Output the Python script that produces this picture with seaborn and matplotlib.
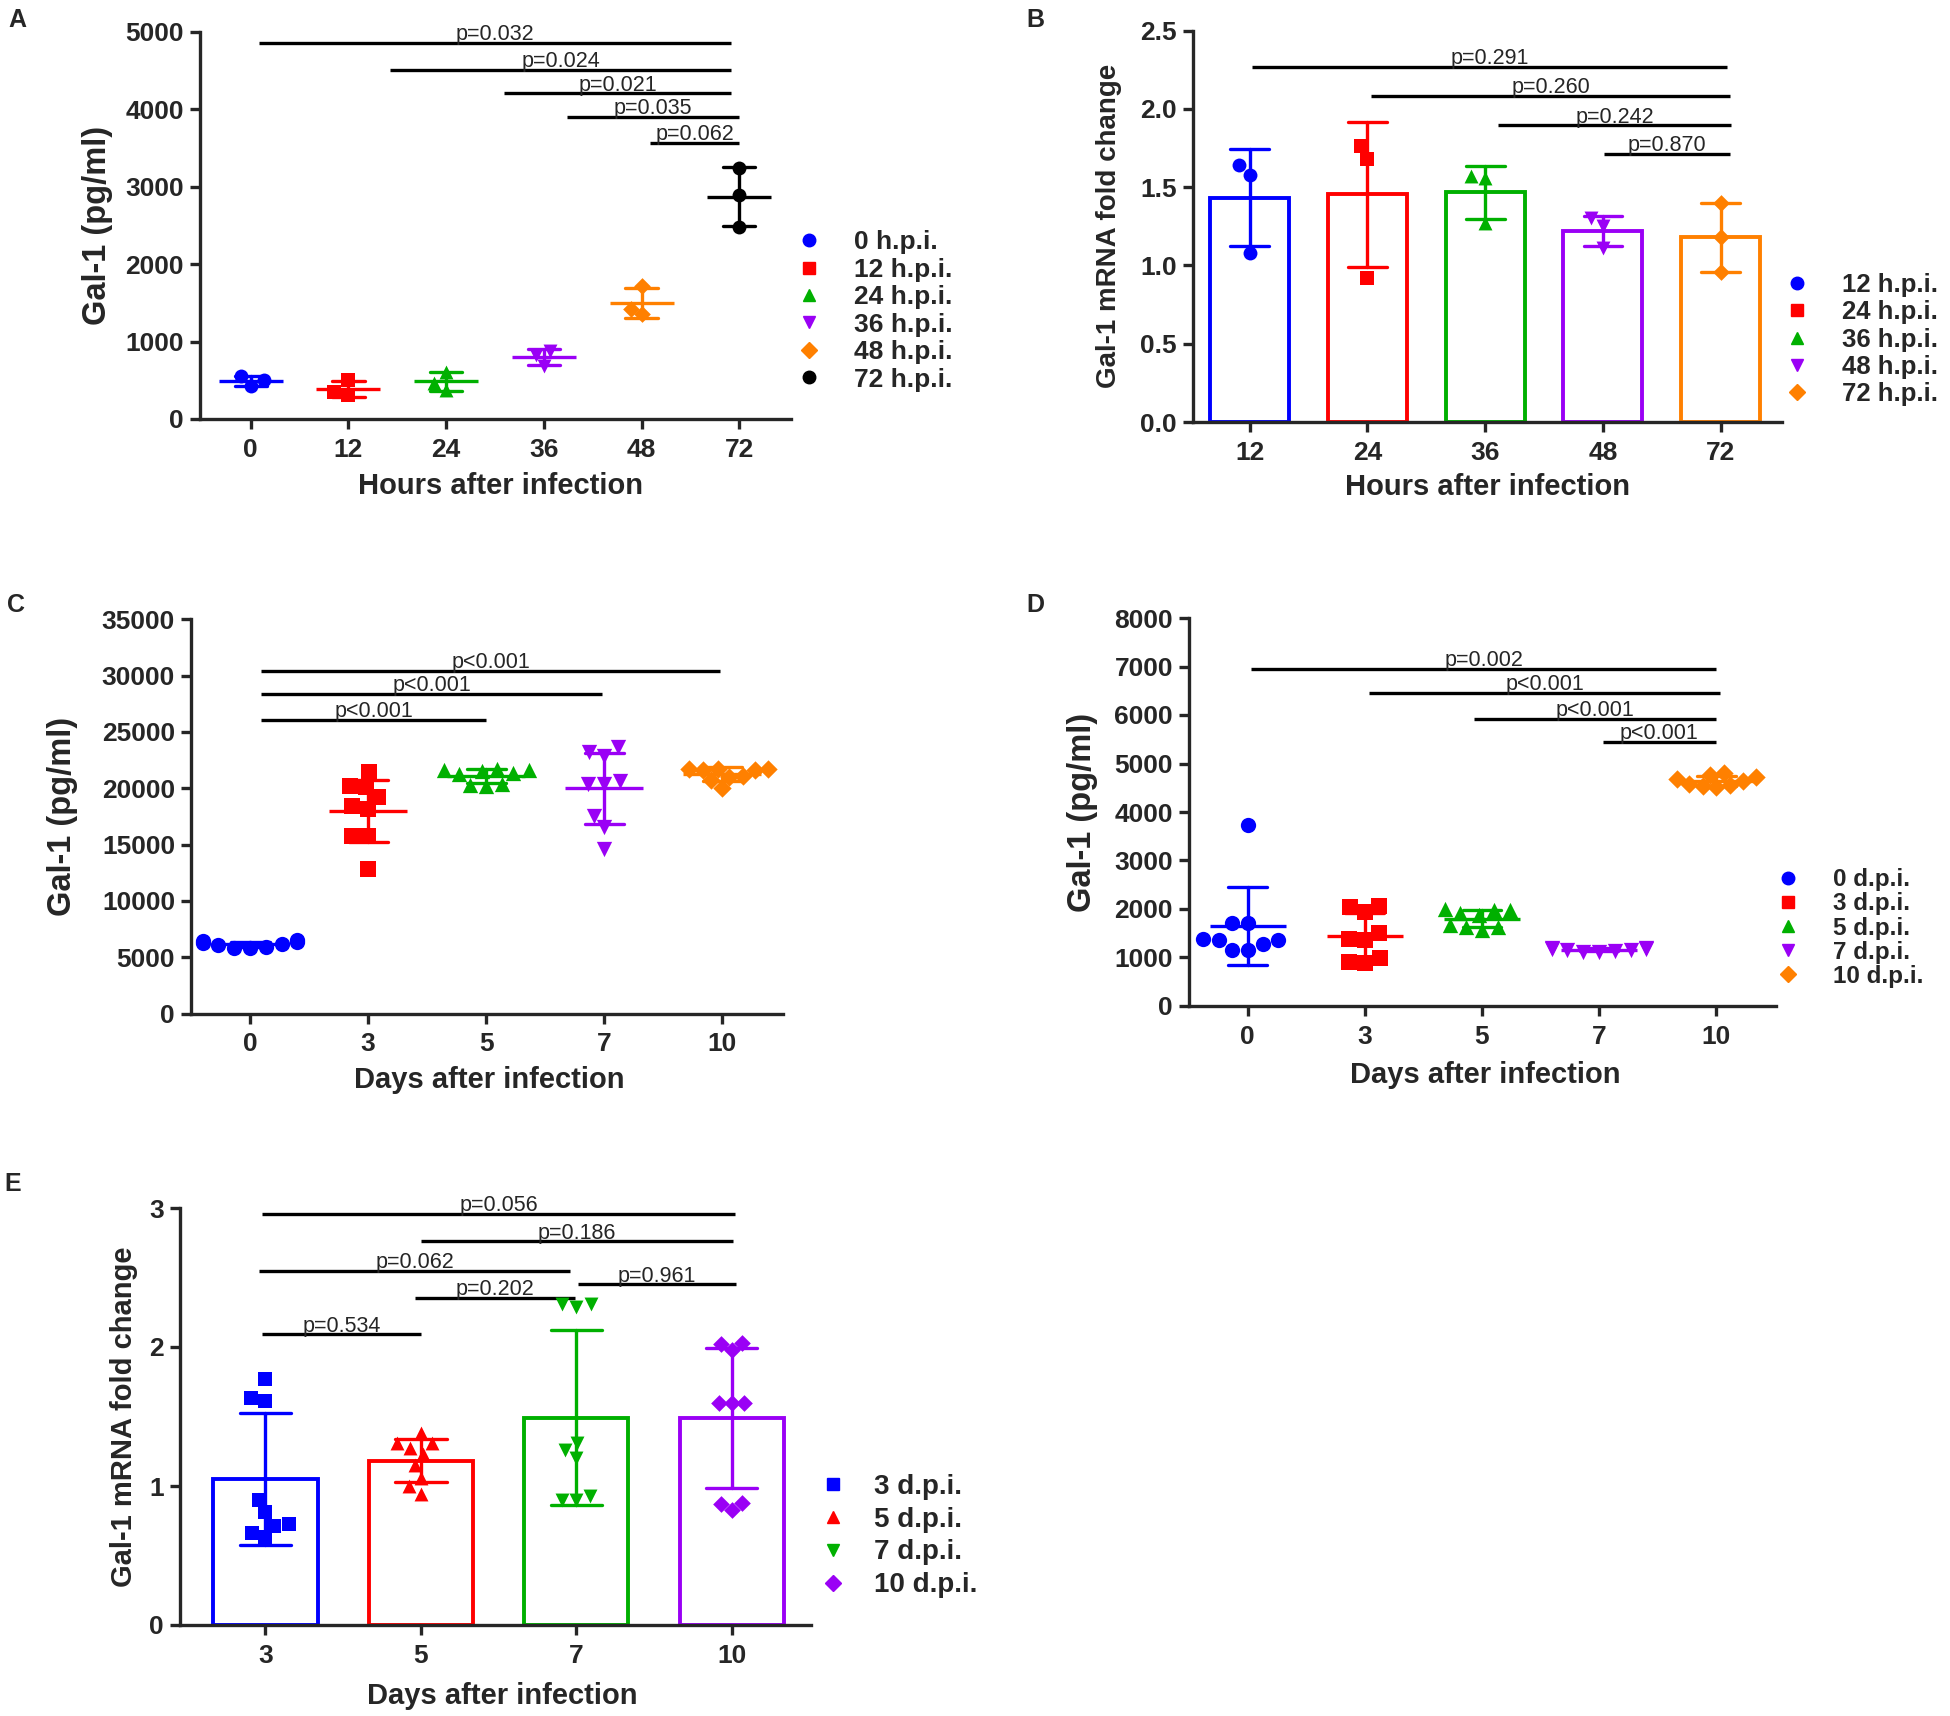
import matplotlib
matplotlib.use("Agg")
import matplotlib.pyplot as plt
from matplotlib.lines import Line2D
import seaborn as sns
import pandas as pd

# ---------------- data ----------------
# A: Gal-1 (pg/ml), hours after infection
a_groups = ["0", "12", "24", "36", "48", "72"]
a_labels = ["0 h.p.i.", "12 h.p.i.", "24 h.p.i.", "36 h.p.i.", "48 h.p.i.", "72 h.p.i."]
a_values = [
    [550, 500, 420],
    [500, 350, 310],
    [610, 470, 375],
    [880, 830, 680],
    [1720, 1420, 1350],
    [3240, 2890, 2480],
]
a_p_labels = ["p=0.032", "p=0.024", "p=0.021", "p=0.035", "p=0.062"]
a_p_start = [0.08, 1.42, 2.59, 3.24, 4.09]
a_p_end = [4.92, 4.92, 4.92, 5.0, 5.0]
a_p_y = [4860, 4505, 4205, 3905, 3560]

# B: Gal-1 mRNA fold change, hours after infection
b_groups = ["12", "24", "36", "48", "72"]
b_labels = ["12 h.p.i.", "24 h.p.i.", "36 h.p.i.", "48 h.p.i.", "72 h.p.i."]
b_values = [
    [1.64, 1.58, 1.08],
    [1.76, 1.68, 0.92],
    [1.57, 1.56, 1.27],
    [1.30, 1.25, 1.11],
    [1.40, 1.18, 0.96],
]
b_p_labels = ["p=0.291", "p=0.260", "p=0.242", "p=0.870"]
b_p_start = [0.02, 1.03, 2.11, 3.01]
b_p_end = [4.05, 4.08, 4.09, 4.08]
b_p_y = [2.27, 2.083, 1.894, 1.711]

# C: Gal-1 (pg/ml), days after infection
c_groups = ["0", "3", "5", "7", "10"]
c_values = [
    [6500, 6350, 6150, 5950, 5800, 5850, 6050, 6250, 6400],
    [21425, 20240, 20090, 19200, 18160, 18460, 15790, 15790, 12820],
    [21700, 21600, 21500, 21400, 21300, 21600, 20400, 20300, 20200],
    [23650, 23200, 22910, 20680, 20390, 20390, 17570, 16530, 14600],
    [21750, 21600, 21600, 21750, 21700, 21100, 21000, 20700, 20000],
]
c_p_labels = ["p<0.001", "p<0.001", "p<0.001"]
c_p_start = [0.095, 0.095, 0.095]
c_p_end = [3.98, 2.98, 2.0]
c_p_y = [30455, 28355, 26080]

# D: Gal-1 (pg/ml), days after infection
d_groups = ["0", "3", "5", "7", "10"]
d_labels = ["0 d.p.i.", "3 d.p.i.", "5 d.p.i.", "7 d.p.i.", "10 d.p.i."]
d_values = [
    [3730, 1720, 1720, 1360, 1270, 1155, 1155, 1360, 1380],
    [2070, 2035, 1935, 1390, 1360, 1495, 985, 885, 905],
    [1980, 1970, 2010, 1880, 1910, 1660, 1620, 1570, 1620],
    [1200, 1180, 1160, 1130, 1110, 1120, 1150, 1170, 1190],
    [4800, 4760, 4720, 4680, 4640, 4580, 4540, 4520, 4560],
]
d_p_labels = ["p=0.002", "p<0.001", "p<0.001", "p<0.001"]
d_p_start = [0.03, 1.04, 1.93, 3.03]
d_p_end = [4.0, 4.03, 4.0, 4.0]
d_p_y = [6957, 6456, 5920, 5440]

# E: Gal-1 mRNA fold change, days after infection
e_groups = ["3", "5", "7", "10"]
e_labels = ["3 d.p.i.", "5 d.p.i.", "7 d.p.i.", "10 d.p.i."]
e_values = [
    [1.77, 1.61, 1.63, 0.90, 0.81, 0.73, 0.71, 0.63, 0.66],
    [1.38, 1.31, 1.31, 1.23, 1.27, 1.15, 1.06, 1.00, 0.94],
    [2.31, 2.29, 2.31, 1.26, 1.31, 1.20, 0.93, 0.90, 0.90],
    [2.03, 1.98, 2.02, 1.60, 1.60, 1.60, 0.88, 0.83, 0.87],
]
e_p_labels = ["p=0.056", "p=0.186", "p=0.062", "p=0.961", "p=0.202", "p=0.534"]
e_p_start = [-0.02, 1.0, -0.04, 2.01, 0.96, -0.02]
e_p_end = [3.02, 3.01, 1.96, 3.03, 1.99, 1.0]
e_p_y = [2.958, 2.759, 2.548, 2.451, 2.352, 2.09]

BLUE, RED, GREEN, PURPLE, ORANGE, BLACK = "#0000ff", "#ff0000", "#00b000", "#9a00f5", "#ff8000", "#000000"
colors_a = [BLUE, RED, GREEN, PURPLE, ORANGE, BLACK]
markers_a = ["o", "s", "^", "v", "D", "o"]
colors_5 = [BLUE, RED, GREEN, PURPLE, ORANGE]
markers_5 = ["o", "s", "^", "v", "D"]
colors_e = [BLUE, RED, GREEN, PURPLE]
markers_e = ["s", "^", "v", "D"]

# ---------------- style ----------------
sns.set_style("ticks")
plt.rcParams["font.family"] = ["Liberation Sans", "DejaVu Sans"]
LW = 2.4

W, H = 1950, 1716
fig = plt.figure(figsize=(W / 100, H / 100), dpi=100)


def long_df(groups, values):
    rows = [(g, v) for g, vals in zip(groups, values) for v in vals]
    return pd.DataFrame(rows, columns=["group", "value"])


def px_axes(left, top, right, bottom):
    return fig.add_axes([left / W, 1 - bottom / H, (right - left) / W, (bottom - top) / H])


def msize(m, s):
    return s * 0.85 if m == "D" else s


def draw_points(ax, df, groups, colors, markers, size):
    for g, c, m in zip(groups, colors, markers):
        sns.swarmplot(data=df[df["group"] == g], x="group", y="value", order=groups,
                      color=c, marker=m, size=msize(m, size), ax=ax, zorder=3)


def draw_sd(ax, df, groups, colors, mean_len):
    sns.pointplot(data=df, x="group", y="value", order=groups, hue="group",
                  hue_order=groups, palette=colors, errorbar="sd", capsize=0.33,
                  markers="_", linestyles="none", markersize=mean_len,
                  markeredgewidth=LW, err_kws={"linewidth": LW}, legend=False,
                  ax=ax, zorder=4)


def draw_bars(ax, df, groups, colors):
    sns.barplot(data=df, x="group", y="value", order=groups, hue="group",
                hue_order=groups, palette=colors, fill=False, errorbar=None,
                width=0.67, linewidth=2.8, legend=False, ax=ax)


def style(ax, xlim, yticks, xlabel, ylabel, ylabel_size, ylab_x, xlab_x, xlab_y):
    ax.set_xlim(*xlim)
    ax.set_ylim(yticks[0], yticks[-1])
    ax.set_yticks(yticks)
    for side in ["top", "right"]:
        ax.spines[side].set_visible(False)
    for side in ["left", "bottom"]:
        ax.spines[side].set_linewidth(LW)
    ax.tick_params(axis="both", direction="out", length=7.5, width=LW, labelsize=19)
    ax.tick_params(axis="x", pad=6)
    ax.tick_params(axis="y", pad=4)
    for lab in ax.get_xticklabels() + ax.get_yticklabels():
        lab.set_fontweight("bold")
    ax.set_xlabel(xlabel, fontsize=21, fontweight="bold", va="center")
    ax.set_ylabel(ylabel, fontsize=ylabel_size, fontweight="bold", va="center")
    ax.yaxis.set_label_coords(ylab_x, 0.5)
    ax.xaxis.set_label_coords(xlab_x, xlab_y)


def annotate(ax, labels, starts, ends, ys):
    for lab, x0, x1, y in zip(labels, starts, ends, ys):
        ax.hlines(y, x0, x1, color="black", linewidth=LW, clip_on=False)
        ax.annotate(lab, xy=((x0 + x1) / 2, y), xytext=(0, 2), textcoords="offset points",
                    ha="center", va="baseline", fontsize=15.5)


def add_legend(labels, colors, markers, marker_x, text_x, center_y, fs, spacing):
    fs_px = fs * 100 / 72
    hl = 0.8
    handles = [Line2D([], [], linestyle="none", marker=m, color=c, markersize=msize(m, 9))
               for c, m in zip(colors, markers)]
    fig.legend(handles, labels, loc="center left",
               bbox_to_anchor=((marker_x - hl * fs_px / 2) / W, 1 - center_y / H),
               frameon=False, borderpad=0, borderaxespad=0, handlelength=hl,
               handletextpad=(text_x - marker_x - hl * fs_px / 2) / fs_px,
               labelspacing=spacing, prop={"weight": "bold", "size": fs})


def panel_letter(x, y, s):
    fig.text(x / W, 1 - y / H, s, ha="center", va="center", fontsize=18, fontweight="bold")


# ---------------- A ----------------
ax = px_axes(200, 31.7, 791, 419)
df = long_df(a_groups, a_values)
draw_points(ax, df, a_groups, colors_a, markers_a, 10)
draw_sd(ax, df, a_groups, colors_a, 46)
style(ax, (-0.52, 5.53), [0, 1000, 2000, 3000, 4000, 5000], "Hours after infection",
      "Gal-1 (pg/ml)", 23.5, -0.174, 0.508, -0.173)
annotate(ax, a_p_labels, a_p_start, a_p_end, a_p_y)
add_legend(a_labels, colors_a, markers_a, 809, 854, 311, 19, 0.13)
panel_letter(17, 20, "A")

# ---------------- B ----------------
ax = px_axes(1193, 30.6, 1782, 422)
df = long_df(b_groups, b_values)
draw_bars(ax, df, b_groups, colors_5)
draw_points(ax, df, b_groups, colors_5, markers_5, 10)
draw_sd(ax, df, b_groups, colors_5, 0)
style(ax, (-0.48, 4.52), [0, 0.5, 1.0, 1.5, 2.0, 2.5], "Hours after infection",
      "Gal-1 mRNA fold change", 20, -0.1426, 0.50, -0.166)
annotate(ax, b_p_labels, b_p_start, b_p_end, b_p_y)
add_legend(b_labels, colors_5, markers_5, 1797, 1842, 339.5, 18.5, 0.12)
panel_letter(1035, 20, "B")

# ---------------- C ----------------
ax = px_axes(191, 619.3, 782.5, 1013.6)
df = long_df(c_groups, c_values)
draw_points(ax, df, c_groups, colors_5, markers_5, 11)
draw_sd(ax, df, c_groups, colors_5, 56)
style(ax, (-0.5, 4.51), [0, 5000, 10000, 15000, 20000, 25000, 30000, 35000],
      "Days after infection", "Gal-1 (pg/ml)", 23.5, -0.218, 0.505, -0.168)
annotate(ax, c_p_labels, c_p_start, c_p_end, c_p_y)
panel_letter(16, 605, "C")

# ---------------- D ----------------
ax = px_axes(1189, 618, 1776, 1006)
df = long_df(d_groups, d_values)
draw_points(ax, df, d_groups, colors_5, markers_5, 11)
draw_sd(ax, df, d_groups, colors_5, 55)
style(ax, (-0.5, 4.51), [0, 1000, 2000, 3000, 4000, 5000, 6000, 7000, 8000],
      "Days after infection", "Gal-1 (pg/ml)", 23.5, -0.182, 0.504, -0.178)
annotate(ax, d_p_labels, d_p_start, d_p_end, d_p_y)
add_legend(d_labels, colors_5, markers_5, 1788, 1833, 928, 17.5, 0.05)
panel_letter(1035, 605, "D")

# ---------------- E ----------------
ax = px_axes(180, 1208, 811, 1625)
df = long_df(e_groups, e_values)
draw_bars(ax, df, e_groups, colors_e)
draw_points(ax, df, e_groups, colors_e, markers_e, 10)
draw_sd(ax, df, e_groups, colors_e, 0)
style(ax, (-0.55, 3.51), [0, 1, 2, 3], "Days after infection",
      "Gal-1 mRNA fold change", 21, -0.0887, 0.51, -0.170)
annotate(ax, e_p_labels, e_p_start, e_p_end, e_p_y)
add_legend(e_labels, colors_e, markers_e, 833, 874, 1536, 20, 0.25)
panel_letter(13, 1184, "E")

fig.savefig("out.png", dpi=100)
